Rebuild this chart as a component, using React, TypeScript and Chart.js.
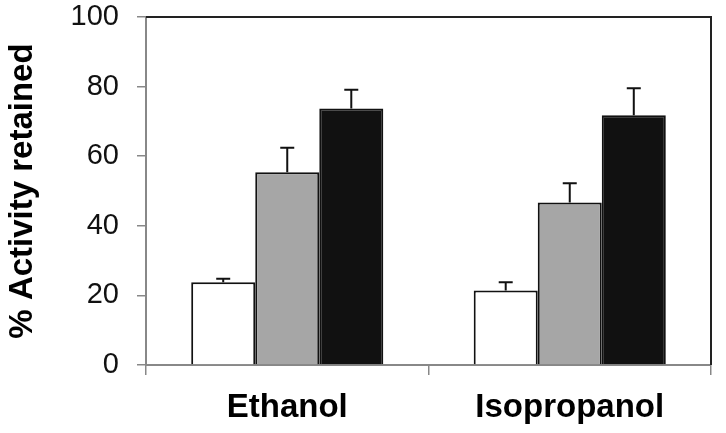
import { useEffect, useRef } from "react";
import { Chart, registerables } from "chart.js";
import type { ChartConfiguration, Plugin } from "chart.js";

Chart.register(...registerables);

const categories = ["Ethanol", "Isopropanol"];
const seriesNames = ["Control", "Treatment A", "Treatment B"];
const seriesValues = [
  [23.8, 21.4],
  [55.4, 46.7],
  [73.7, 71.8],
];
const seriesErrors = [
  [1.0, 2.4],
  [7.0, 5.5],
  [5.4, 7.7],
];
const seriesColors = ["#ffffff", "#a6a6a6", "#111111"];
const yTicks = [0, 20, 40, 60, 80, 100];

const FONT = "Arial, 'Liberation Sans', Helvetica, sans-serif";

// upward-only error bars with a small cap
const errorBars: Plugin<"bar"> = {
  id: "errorBars",
  afterDatasetsDraw(chart) {
    const ctx = chart.ctx;
    const y = chart.scales.y;
    ctx.save();
    ctx.strokeStyle = "#111";
    ctx.lineWidth = 2;
    chart.data.datasets.forEach((ds, di) => {
      const meta = chart.getDatasetMeta(di);
      meta.data.forEach((bar, i) => {
        const v = ds.data[i] as number;
        const top = y.getPixelForValue(v + seriesErrors[di][i]);
        const base = y.getPixelForValue(v);
        ctx.beginPath();
        ctx.moveTo(bar.x, base);
        ctx.lineTo(bar.x, top);
        ctx.moveTo(bar.x - 7, top);
        ctx.lineTo(bar.x + 7, top);
        ctx.stroke();
      });
    });
    ctx.restore();
  },
};

// top and right frame lines
const frame: Plugin<"bar"> = {
  id: "frame",
  afterDraw(chart) {
    const { ctx, chartArea } = chart;
    ctx.save();
    ctx.strokeStyle = "#222";
    ctx.lineWidth = 2;
    ctx.beginPath();
    ctx.moveTo(chartArea.left, chartArea.top);
    ctx.lineTo(chartArea.right, chartArea.top);
    ctx.lineTo(chartArea.right, chartArea.bottom);
    ctx.stroke();
    ctx.restore();
  },
};

const BarChart = () => {
  const canvasRef = useRef<HTMLCanvasElement | null>(null);

  useEffect(() => {
    const ctx = canvasRef.current?.getContext("2d");
    if (!ctx) return;

    const config: ChartConfiguration<"bar", number[], string> = {
      type: "bar",
      data: {
        labels: categories,
        datasets: seriesNames.map((name, i) => ({
          label: name,
          data: seriesValues[i],
          backgroundColor: seriesColors[i],
          borderColor: "#111",
          borderWidth: 2,
          categoryPercentage: 0.68,
          barPercentage: 1,
        })),
      },
      options: {
        animation: false,
        responsive: false,
        layout: { padding: { top: 17, right: 15, left: 0, bottom: 0 } },
        plugins: {
          legend: { display: false },
          tooltip: { enabled: false },
        },
        scales: {
          x: {
            offset: true,
            grid: {
              offset: true,
              drawOnChartArea: false,
              tickLength: 10,
              color: "#888",
              lineWidth: 1.5,
            },
            border: { color: "#888", width: 2 },
            ticks: {
              color: "#000",
              padding: 13,
              font: { family: FONT, size: 33, weight: "bold" },
            },
            afterFit: (scale) => {
              scale.height = 68;
              scale.paddingLeft = 0;
              scale.paddingRight = 0;
            },
          },
          y: {
            min: 0,
            max: 100,
            afterBuildTicks: (scale) => {
              scale.ticks = yTicks.map((v) => ({ value: v }));
            },
            grid: {
              drawOnChartArea: false,
              tickLength: 9,
              color: "#888",
              lineWidth: 1.5,
            },
            border: { color: "#888", width: 2 },
            ticks: {
              color: "#111",
              padding: 18,
              font: { family: FONT, size: 29 },
            },
            title: {
              display: true,
              text: "% Activity retained",
              color: "#000",
              padding: { top: 3, bottom: 0 },
              font: { family: FONT, size: 33, weight: "bold" },
            },
            afterFit: (scale) => {
              scale.width = 146;
              scale.paddingTop = 0;
              scale.paddingBottom = 0;
            },
          },
        },
      },
      plugins: [errorBars, frame],
    };

    const chart = new Chart(ctx, config);
    return () => chart.destroy();
  }, []);

  return <canvas ref={canvasRef} width={726} height={433} style={{ display: "block" }} />;
};

export default function App() {
  return (
    <div style={{ position: "fixed", left: 0, top: 0, width: 726, height: 433, background: "#fff" }}>
      <BarChart />
    </div>
  );
}
